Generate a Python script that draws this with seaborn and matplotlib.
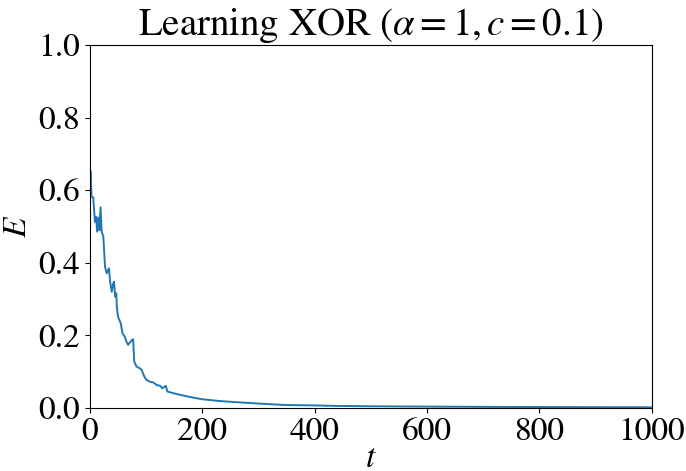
import matplotlib
matplotlib.use("Agg")
import matplotlib.pyplot as plt
import pandas as pd
import seaborn as sns

# Training error over time
t = [0, 1, 3, 6, 9, 11, 13, 15, 17, 19, 21, 24, 27, 30, 34, 36, 39, 41, 43, 45,
     47, 48, 50, 55, 58, 62, 65, 68, 71, 76, 77, 79, 83, 89, 92, 97, 101, 107,
     113, 119, 125, 129, 135, 138, 150, 169, 185, 199, 230, 258, 300, 347, 400,
     436, 500, 600, 700, 800, 900, 1000]
E = [0.60, 0.654, 0.582, 0.580, 0.513, 0.527, 0.486, 0.525, 0.490, 0.553, 0.486,
     0.472, 0.389, 0.371, 0.385, 0.348, 0.320, 0.340, 0.348, 0.307,
     0.316, 0.279, 0.252, 0.233, 0.206, 0.196, 0.183, 0.174, 0.180, 0.189,
     0.189, 0.128, 0.114, 0.109, 0.105, 0.086, 0.077, 0.072, 0.070, 0.063,
     0.061, 0.054, 0.061, 0.045, 0.040, 0.033, 0.028, 0.024, 0.019, 0.016,
     0.012, 0.008, 0.0068, 0.0055, 0.0045, 0.0035, 0.0028, 0.0023, 0.0020,
     0.0017]

df = pd.DataFrame({"t": t, "E": E})

sns.set_style("ticks", {"axes.edgecolor": "black", "text.color": "black",
                        "axes.labelcolor": "black", "xtick.color": "black",
                        "ytick.color": "black"})
plt.rcParams["font.family"] = ["STIXGeneral", "Liberation Serif", "DejaVu Serif"]
plt.rcParams["mathtext.fontset"] = "stix"
plt.rcParams["font.size"] = 24

fig, ax = plt.subplots(figsize=(6.86, 4.71), dpi=100)
fig.subplots_adjust(left=0.131, right=0.950, top=0.904, bottom=0.134)

sns.lineplot(data=df, x="t", y="E", ax=ax, color="#1f77b4", linewidth=1.4)

ax.set_xlim(0, 1000)
ax.set_ylim(0, 1)
ax.set_xticks([0, 200, 400, 600, 800, 1000])
ax.set_yticks([0.0, 0.2, 0.4, 0.6, 0.8, 1.0])
ax.set_xlabel("$t$", labelpad=-2)
ax.set_ylabel("$E$")
ax.set_title(r"Learning XOR ($\alpha = 1, c = 0.1$)", fontsize=28, pad=5)
ax.tick_params(labelsize=24)

fig.savefig("out.png", dpi=100)
